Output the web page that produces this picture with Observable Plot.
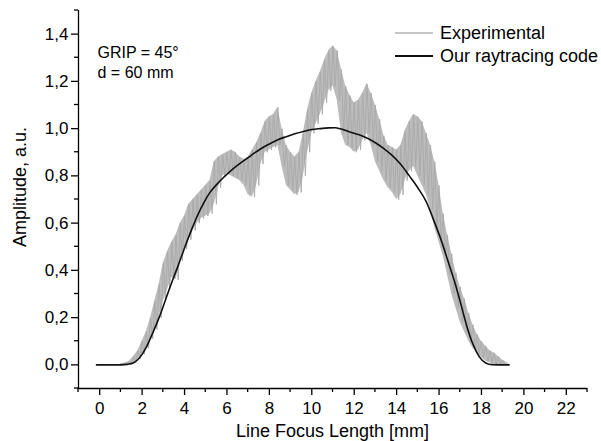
<!DOCTYPE html>
<html><head><meta charset="utf-8">
<script src="https://cdn.jsdelivr.net/npm/d3@7"></script>
<script src="https://cdn.jsdelivr.net/npm/@observablehq/plot@0.6"></script>
<style>body{margin:0;background:#fff;} svg{display:block;}</style>
</head><body><div id="chart"></div>
<script>
// Simulation ("Our raytracing code")
const simX = [-0.15,0.5,1.0,1.3,1.6,1.9,2.2,2.5,2.8,3.1,3.4,3.7,4.0,4.3,4.6,4.9,5.2,5.5,5.8,6.1,6.4,6.7,7.0,7.3,7.6,8.0,8.4,8.8,9.2,9.6,10.0,10.4,10.8,11.1,11.4,11.8,12.2,12.6,13.0,13.4,13.8,14.2,14.6,15.0,15.4,15.8,16.1,16.4,16.7,17.0,17.3,17.6,17.9,18.2,18.5,19.3];
const simY = [0,0,0,0.002,0.009,0.032,0.075,0.135,0.200,0.275,0.350,0.420,0.495,0.565,0.630,0.685,0.730,0.762,0.790,0.815,0.838,0.858,0.877,0.897,0.915,0.935,0.953,0.966,0.978,0.988,0.996,1.000,1.003,1.004,0.998,0.986,0.975,0.960,0.940,0.915,0.886,0.848,0.800,0.750,0.690,0.600,0.528,0.445,0.362,0.267,0.167,0.087,0.034,0.008,0.001,0];

// Experimental: upper / lower envelope of the noisy band
const expX = [1.0,1.2,1.4,1.6,1.8,2.0,2.2,2.4,2.6,2.8,3.0,3.2,3.4,3.6,3.8,4.0,4.2,4.4,4.6,4.8,5.0,5.2,5.4,5.6,5.8,6.0,6.2,6.4,6.6,6.8,7.0,7.2,7.4,7.6,7.8,8.0,8.2,8.4,8.6,8.8,9.0,9.2,9.4,9.6,9.8,10.0,10.2,10.4,10.6,10.8,11.0,11.2,11.4,11.6,11.8,12.0,12.2,12.4,12.6,12.8,13.0,13.2,13.4,13.6,13.8,14.0,14.2,14.4,14.6,14.8,15.0,15.2,15.4,15.6,15.8,16.0,16.2,16.4,16.6,16.8,17.0,17.2,17.4,17.6,17.8,18.0,18.2,18.4,18.6,18.8,19.0,19.2];
const expHi = [0.005,0.008,0.015,0.035,0.06,0.10,0.14,0.20,0.27,0.34,0.43,0.48,0.52,0.55,0.60,0.63,0.68,0.70,0.72,0.74,0.76,0.78,0.86,0.88,0.89,0.90,0.91,0.90,0.88,0.87,0.88,0.91,0.94,0.98,1.03,1.05,1.06,1.09,1.00,0.93,0.90,0.88,0.90,0.98,1.08,1.15,1.20,1.24,1.29,1.33,1.35,1.33,1.25,1.18,1.14,1.11,1.12,1.15,1.19,1.15,1.10,1.04,0.97,0.93,0.92,0.91,0.93,0.99,1.03,1.06,1.05,1.03,0.98,0.93,0.86,0.76,0.64,0.55,0.47,0.39,0.33,0.28,0.22,0.17,0.13,0.10,0.08,0.06,0.05,0.035,0.02,0.01];
const expLo = [0.000,0.000,0.003,0.010,0.025,0.045,0.07,0.11,0.15,0.20,0.27,0.32,0.37,0.36,0.44,0.49,0.53,0.57,0.60,0.62,0.63,0.64,0.68,0.75,0.80,0.81,0.80,0.79,0.78,0.76,0.72,0.71,0.76,0.85,0.90,0.91,0.92,0.93,0.84,0.76,0.74,0.72,0.73,0.80,0.90,0.98,1.02,1.06,1.11,1.16,1.18,1.12,0.98,0.93,0.92,0.90,0.91,0.95,0.98,0.93,0.86,0.82,0.78,0.75,0.73,0.70,0.72,0.78,0.82,0.84,0.80,0.76,0.72,0.66,0.58,0.52,0.46,0.38,0.30,0.24,0.18,0.14,0.10,0.07,0.05,0.03,0.015,0.008,0.004,0.002,0.000,0.000];

const xTicks = [0,2,4,6,8,10,12,14,16,18,20,22];
const xMinor = [-1,1,3,5,7,9,11,13,15,17,19,21,23];
const yTicks = [0,0.2,0.4,0.6,0.8,1.0,1.2,1.4];
const yMinor = [-0.1,0.1,0.3,0.5,0.7,0.9,1.1,1.3,1.5];
const yTickLabels = ["0,0","0,2","0,4","0,6","0,8","1,0","1,2","1,4"];
const seriesNames = ["Experimental","Our raytracing code"];
const notes = ["GRIP = 45°","d = 60 mm"];
const xTitle = "Line Focus Length [mm]";
const yTitle = "Amplitude, a.u.";

const sim = simX.map((x,i)=>({x, y: simY[i]}));
const band = expX.map((x,i)=>({x, lo: expLo[i], hi: expHi[i]}));
const exp = [];
expX.forEach((x,i)=>{ exp.push({x, y: expHi[i]}); exp.push({x: x+0.1, y: expLo[i]}); });

const font = "'Liberation Sans', Arial, sans-serif";
const grey = "#b2b2b2";

const chart = Plot.plot({
  width: 601, height: 441,
  marginLeft: 78, marginRight: 14, marginTop: 10, marginBottom: 53,
  style: {fontFamily: font, fontSize: "17px", color: "#000", background: "#fff"},
  x: {type: "linear", domain: [-1, 23]},
  y: {type: "linear", domain: [-0.1, 1.5]},
  marks: [
    Plot.areaY(band, {x: "x", y1: "lo", y2: "hi", fill: "#bcbcbc"}),
    Plot.line(exp, {x: "x", y: "y", stroke: "#a9a9a9", strokeWidth: 0.9}),
    Plot.line(sim, {x: "x", y: "y", stroke: "#111", strokeWidth: 1.6, curve: "monotone-x"}),
    Plot.ruleX([-1], {y1: -0.1, y2: 1.5, stroke: "#000", strokeWidth: 1.3}),
    Plot.ruleY([-0.1], {x1: -1, x2: 23, stroke: "#000", strokeWidth: 1.3}),
    Plot.axisX(xTicks, {anchor: "bottom", tickSize: 7, tickPadding: 6, tickFormat: d => String(d), label: null, fontSize: 17, strokeWidth: 1.3}),
    Plot.axisY(yTicks, {anchor: "left", tickSize: 7, tickPadding: 3, tickFormat: d => yTickLabels[yTicks.indexOf(d)], label: null, fontSize: 17, strokeWidth: 1.3}),
    Plot.text([notes.join("\n")], {frameAnchor: "top-left", dx: 19, dy: 33, textAnchor: "start", lineAnchor: "top", lineHeight: 1.25, fontSize: 16, fill: "#000"})
  ]
});

// Minor ticks positioned through the plot's scales
const sx = chart.scale("x"), sy = chart.scale("y");
const svg = d3.select(chart);
const g = svg.append("g").attr("stroke", "#000").attr("stroke-width", 1.3);
const y0 = sy.apply(-0.1), x0 = sx.apply(-1);
xMinor.forEach(v => g.append("line").attr("x1", sx.apply(v)).attr("x2", sx.apply(v)).attr("y1", y0).attr("y2", y0 + 4));
yMinor.forEach(v => g.append("line").attr("y1", sy.apply(v)).attr("y2", sy.apply(v)).attr("x1", x0).attr("x2", x0 - 4));

// Axis titles
const xMid = (sx.apply(-1) + sx.apply(23)) / 2;
svg.append("text").attr("x", xMid).attr("y", 437).attr("text-anchor", "middle")
  .attr("font-family", font).attr("font-size", 18).attr("fill", "#000").text(xTitle);
svg.append("text").attr("transform", "translate(26,187) rotate(-90)").attr("text-anchor", "middle")
  .attr("font-family", font).attr("font-size", 18).attr("fill", "#000").text(yTitle);

// Legend
const lg = svg.append("g").attr("font-family", font).attr("font-size", 18).attr("text-anchor", "start");
const colors = [grey, "#111"], widths = [1.3, 1.8];
seriesNames.forEach((name, i) => {
  const yy = 33 + i * 23;
  lg.append("line").attr("x1", 395).attr("x2", 433).attr("y1", yy).attr("y2", yy).attr("stroke", colors[i]).attr("stroke-width", widths[i]);
  lg.append("text").attr("x", 440).attr("y", yy).attr("dy", "0.35em").attr("fill", "#000").text(name);
});

document.getElementById("chart").appendChild(chart);
</script>
</body></html>
